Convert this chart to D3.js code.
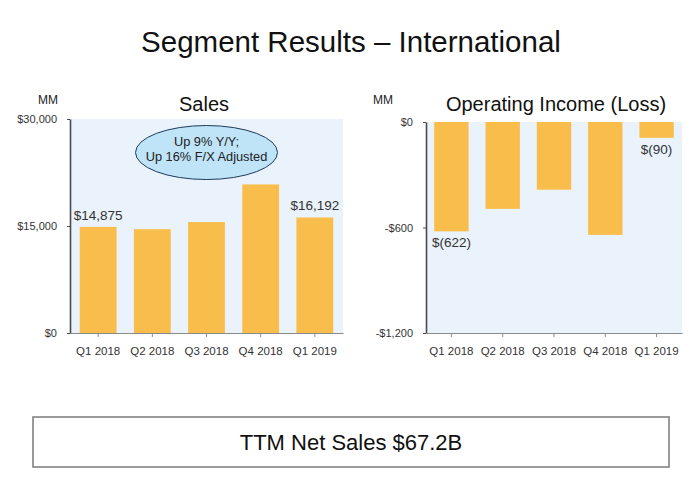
<!DOCTYPE html>
<html>
<head>
<meta charset="utf-8">
<script src="https://cdn.jsdelivr.net/npm/d3@7"></script>
<style>
  body { margin: 0; background: #fff; }
  svg { display: block; font-family: "Liberation Sans", Arial, sans-serif; }
</style>
</head>
<body>
<div id="chart"></div>
<script>
// Quarters shared by both panels
const quarters = ['Q1 2018', 'Q2 2018', 'Q3 2018', 'Q4 2018', 'Q1 2019'];

// Sales ($MM)
const salesValues = [14875, 14548, 15549, 20827, 16192];
const salesLabels = ['$14,875', '', '', '', '$16,192'];
const salesTicks = [0, 15000, 30000];
const salesTickLabels = ['$0', '$15,000', '$30,000'];

// Operating income (loss) ($MM)
const opValues = [-622, -494, -385, -642, -90];
const opLabels = ['$(622)', '', '', '', '$(90)'];
const opTicks = [0, -600, -1200];
const opTickLabels = ['$0', '-$600', '-$1,200'];

const W = 699, H = 480;
const BAR = '#f9bd4c';
const PLOT_BG = '#eaf2fc';

const svg = d3.select('#chart').append('svg')
  .attr('width', W)
  .attr('height', H);

svg.append('rect').attr('width', W).attr('height', H).attr('fill', '#fff');

// Main title
svg.append('text')
  .attr('x', 351)
  .attr('y', 52)
  .attr('text-anchor', 'middle')
  .attr('font-size', '29.5px')
  .attr('fill', '#111')
  .text('Segment Results \u2013 International');

/**
 * Draw one bar panel
 */
function drawPanel(opts) {
  const { left, right, top, bottom, domain, values, labels, ticks, tickLabels,
          title, titleX, mmX, padInner, padOuter } = opts;

  const x = d3.scaleBand()
    .domain(quarters)
    .range([left, right])
    .paddingInner(padInner)
    .paddingOuter(padOuter);

  const y = d3.scaleLinear()
    .domain(domain)
    .range([bottom, top]);

  const g = svg.append('g');

  // plot background
  g.append('rect')
    .attr('x', left)
    .attr('y', top)
    .attr('width', right - left)
    .attr('height', bottom - top)
    .attr('fill', PLOT_BG);

  // bars (grow from zero line)
  g.selectAll('rect.bar')
    .data(values)
    .join('rect')
    .attr('class', 'bar')
    .attr('x', (d, i) => x(quarters[i]))
    .attr('width', x.bandwidth())
    .attr('y', d => y(Math.max(0, d)))
    .attr('height', d => Math.abs(y(d) - y(0)))
    .attr('fill', BAR);

  // value labels
  g.selectAll('text.val')
    .data(values)
    .join('text')
    .attr('class', 'val')
    .attr('x', (d, i) => x(quarters[i]) + x.bandwidth() / 2)
    .attr('y', d => d >= 0 ? y(d) - 7 : y(d) + 16)
    .attr('text-anchor', 'middle')
    .attr('font-size', '13.5px')
    .attr('fill', '#333')
    .text((d, i) => labels[i]);

  // x axis
  const xAxis = g.append('g')
    .attr('transform', `translate(0,${bottom})`)
    .call(d3.axisBottom(x).tickSize(4).tickSizeOuter(0).tickPadding(10));
  xAxis.select('.domain').attr('stroke', '#8a8a8a').attr('stroke-width', 1.2);
  xAxis.selectAll('.tick line').attr('stroke', '#8a8a8a');
  xAxis.selectAll('text')
    .attr('font-size', '11.5px')
    .attr('font-family', '"Liberation Sans", Arial, sans-serif')
    .attr('fill', '#333');

  // y axis
  const yAxis = g.append('g')
    .attr('transform', `translate(${left},0)`)
    .call(d3.axisLeft(y)
      .tickValues(ticks)
      .tickFormat((d, i) => tickLabels[i])
      .tickSize(3)
      .tickSizeOuter(0)
      .tickPadding(10));
  yAxis.select('.domain').attr('stroke', '#4a4a4a').attr('stroke-width', 1.6);
  yAxis.selectAll('.tick line').attr('stroke', '#4a4a4a');
  yAxis.selectAll('text')
    .attr('font-size', '11px')
    .attr('font-family', '"Liberation Sans", Arial, sans-serif')
    .attr('fill', '#333');

  // panel title + unit
  g.append('text')
    .attr('x', titleX)
    .attr('y', 111)
    .attr('text-anchor', 'middle')
    .attr('font-size', '20px')
    .attr('fill', '#111')
    .text(title);

  g.append('text')
    .attr('x', mmX)
    .attr('y', 104)
    .attr('text-anchor', 'middle')
    .attr('font-size', '12px')
    .attr('fill', '#222')
    .text('MM');

  return { x, y, g };
}

const sales = drawPanel({
  left: 70, right: 343, top: 119, bottom: 333,
  domain: [0, 30000],
  values: salesValues, labels: salesLabels,
  ticks: salesTicks, tickLabels: salesTickLabels,
  title: 'Sales', titleX: 204, mmX: 48,
  padInner: 0.32, padOuter: 0.18
});

drawPanel({
  left: 426, right: 682, top: 122, bottom: 333,
  domain: [-1200, 0],
  values: opValues, labels: opLabels,
  ticks: opTicks, tickLabels: opTickLabels,
  title: 'Operating Income (Loss)', titleX: 556, mmX: 383,
  padInner: 0.33, padOuter: 0.16
});

// Growth callout bubble on the sales panel
const bubbleX = sales.x('Q3 2018') + sales.x.bandwidth() / 2;
const bubbleY = sales.y(25300);
sales.g.append('ellipse')
  .attr('cx', bubbleX)
  .attr('cy', bubbleY)
  .attr('rx', 71)
  .attr('ry', 27)
  .attr('fill', '#bfe4f8')
  .attr('stroke', '#1f3a5a')
  .attr('stroke-width', 1);

sales.g.append('text')
  .attr('x', bubbleX)
  .attr('y', bubbleY - 7)
  .attr('text-anchor', 'middle')
  .attr('font-size', '12.8px')
  .attr('fill', '#222')
  .text('Up 9% Y/Y;');

sales.g.append('text')
  .attr('x', bubbleX)
  .attr('y', bubbleY + 8)
  .attr('text-anchor', 'middle')
  .attr('font-size', '12.8px')
  .attr('fill', '#222')
  .text('Up 16% F/X Adjusted');

// TTM summary box
svg.append('rect')
  .attr('x', 33)
  .attr('y', 417)
  .attr('width', 636)
  .attr('height', 50)
  .attr('fill', '#fff')
  .attr('stroke', '#7a7a7a')
  .attr('stroke-width', 1.5);

svg.append('text')
  .attr('x', 351)
  .attr('y', 450)
  .attr('text-anchor', 'middle')
  .attr('font-size', '22px')
  .attr('fill', '#111')
  .text('TTM Net Sales $67.2B');
</script>
</body>
</html>
